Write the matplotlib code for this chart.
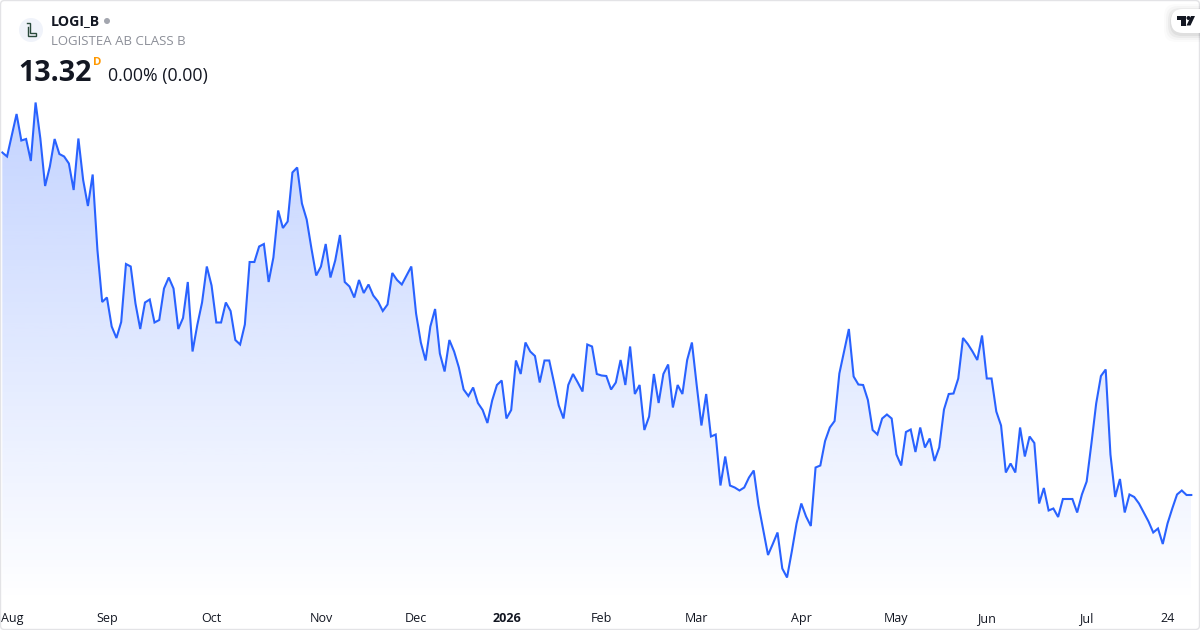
import matplotlib
matplotlib.use("Agg")
import matplotlib.pyplot as plt
from matplotlib.patches import Circle, FancyBboxPatch, Polygon
import numpy as np

plt.rcParams['font.family'] = ['Open Sans', 'Noto Sans', 'DejaVu Sans']

# daily closes
close_aug_oct = [
    20.17, 20.09, 20.52, 20.94, 20.41, 20.44, 20.00, 21.17, 20.45, 19.50,
    19.89, 20.44, 20.14, 20.09, 19.95, 19.42, 20.45, 19.62, 19.10, 19.73,
    18.22, 17.18, 17.27, 16.69, 16.46, 16.78, 17.94, 17.89, 17.15, 16.64,
    17.17, 17.23, 16.77, 16.82, 17.45, 17.67, 17.45, 16.64, 16.86, 17.58,
    16.19, 16.72, 17.17, 17.89, 17.51, 16.77, 16.77, 17.17, 17.00, 16.42,
    16.33, 16.73, 17.98, 17.98, 18.29, 18.34, 17.58, 18.07, 19.01, 18.66,
    18.79, 19.77, 19.87,
]
close_oct_jan = [
    19.15, 18.83, 18.25, 17.71, 17.89, 18.34, 17.67, 18.01, 18.52, 17.58,
    17.49, 17.27, 17.62, 17.36, 17.53, 17.31, 17.19, 17.00, 17.13, 17.76,
    17.62, 17.53, 17.71, 17.89, 16.95, 16.37, 16.01, 16.69, 17.04, 16.15,
    15.79, 16.42, 16.19, 15.87, 15.43, 15.30, 15.47, 15.16, 15.02, 14.76,
    15.21, 15.52, 15.61, 14.85, 15.02, 16.01, 15.74, 16.37, 16.19, 16.10,
    15.57, 16.01, 16.01, 15.57, 15.11, 14.85, 15.52, 15.74, 15.57, 15.39,
    16.33,
]
close_jan_apr = [
    16.29, 15.74, 15.71, 15.70, 15.43, 15.57, 16.02, 15.52, 16.29, 15.34,
    15.52, 14.62, 14.89, 15.74, 15.16, 15.74, 15.93, 15.07, 15.52, 15.34,
    16.02, 16.37, 15.52, 14.71, 15.34, 14.49, 14.53, 13.51, 14.09, 13.51,
    13.47, 13.41, 13.47, 13.67, 13.81, 13.12, 12.62, 12.12, 12.34, 12.57,
    11.85, 11.67, 12.19, 12.75, 13.15, 12.89, 12.70, 13.87, 13.91, 14.40,
    14.67, 14.80, 15.75, 16.19, 16.64, 15.69, 15.53, 15.52, 15.22, 14.62,
    14.53,
]
close_apr_jul = [
    14.85, 14.93, 14.85, 14.13, 13.91, 14.58, 14.63, 14.18, 14.67, 14.27,
    14.45, 14.00, 14.27, 15.03, 15.34, 15.35, 15.65, 16.46, 16.34, 16.19,
    16.02, 16.51, 15.65, 15.65, 14.99, 14.71, 13.77, 13.95, 13.77, 14.67,
    14.09, 14.49, 14.36, 13.15, 13.46, 13.01, 13.05, 12.88, 13.24, 13.24,
    13.24, 12.97, 13.33, 13.59, 14.35, 15.15, 15.70, 15.83, 14.13, 13.28,
    13.64, 12.97, 13.33, 13.28, 13.15, 12.97, 12.79, 12.57, 12.65, 12.34,
    12.75, 13.05, 13.33, 13.41, 13.32, 13.32,
]
close = close_aug_oct + close_oct_jan + close_jan_apr + close_apr_jul

tick_pos = [2, 22, 44, 67, 87, 106, 126, 146, 168, 188, 207, 228, 245]
tick_labels = ['Aug', 'Sep', 'Oct', 'Nov', 'Dec', '2026', 'Feb', 'Mar', 'Apr',
               'May', 'Jun', 'Jul', '24']

days = np.arange(len(close))
line_color = '#2962ff'

fig = plt.figure(figsize=(12, 6.3), dpi=100, facecolor='white')
ax = fig.add_axes([0, 27 / 630, 1, 603 / 630])
ax.set_xlim(-0.484, 251.83)
ax.set_ylim(11.16, 23.22)

# area under the line, fading out towards the bottom
fade = np.zeros((256, 1, 4))
fade[:, 0, :3] = matplotlib.colors.to_rgb(line_color)
fade[:, 0, 3] = np.linspace(0.28, 0, 256)
top = max(close)
image = ax.imshow(fade, extent=[0, days[-1], 11.16, top], aspect='auto',
                  origin='upper', zorder=1)
outline = np.vstack([[0, 11.16], np.column_stack([days, close]), [days[-1], 11.16]])
clip = Polygon(outline, transform=ax.transData, facecolor='none', edgecolor='none')
ax.add_patch(clip)
image.set_clip_path(clip)

ax.plot(days, close, color=line_color, lw=1.5, solid_joinstyle='miter', zorder=2)
ax.set_xlim(-0.484, 251.83)
ax.set_ylim(11.16, 23.22)

ax.set_yticks([])
ax.set_xticks(tick_pos)
ax.set_xticklabels(tick_labels, fontsize=9, color='#131722', va='baseline')
ax.tick_params(axis='x', length=0, pad=13.8)
ax.get_xticklabels()[5].set_fontweight('bold')
for side in ax.spines.values():
    side.set_visible(False)

# header and frame are placed in pixels on a second axes
over = fig.add_axes([0, 0, 1, 1], facecolor='none')
over.set_xlim(0, 1200)
over.set_ylim(630, 0)
over.axis('off')

over.add_patch(FancyBboxPatch((0.5, 0.5), 1199, 629, boxstyle='round,pad=0,rounding_size=4',
                              fc='none', ec='#e3e3e6', lw=1))

over.add_patch(Circle((31, 30), 12, fc='#f0f3fa', ec='none'))
over.plot([27, 29.7, 29.7, 36, 36, 27.5, 27.5], [22.5, 22.5, 33, 33, 36.2, 36.2, 27],
          color='#2a4a3c', lw=1.0, solid_joinstyle='miter')

over.text(51, 21, 'LOGI_B', fontsize=10.2, fontweight='bold', color='#131722', va='center')
over.add_patch(Circle((107, 21), 3, fc='#a3a6af', ec='none'))
over.text(51, 41.5, 'LOGISTEA AB CLASS B', fontsize=9.5, color='#8c8f98', va='center')
over.text(18, 73.5, '13.32', fontsize=20.5, fontweight='bold', color='#131722', va='center')
over.text(93, 62.5, 'D', fontsize=8.2, fontweight='bold', color='#ff9800', va='center')
over.text(108, 76, '0.00% (0.00)', fontsize=12.75, color='#131722', va='center')

# TradingView badge
for grow, alpha in [(7, 0.015), (5, 0.025), (3, 0.04), (1, 0.05)]:
    over.add_patch(FancyBboxPatch((1171 - grow, 9 - grow + 2), 40 + 2 * grow, 24 + 2 * grow,
                                  boxstyle='round,pad=0,rounding_size=12',
                                  fc='black', ec='none', alpha=alpha))
over.add_patch(FancyBboxPatch((1171, 9), 40, 24, boxstyle='round,pad=0,rounding_size=12',
                              fc='white', ec='none'))
over.add_patch(Polygon([(1177, 16), (1186, 16), (1186, 25.5), (1181, 25.5), (1181, 20), (1177, 20)],
                       fc='#131722', ec='none'))
over.add_patch(Circle((1188.5, 18), 2, fc='#131722', ec='none'))
over.add_patch(Polygon([(1191, 16), (1195, 16), (1190.5, 25.5), (1186.5, 25.5)], fc='#131722', ec='none'))

fig.savefig('out.png', dpi=100)
